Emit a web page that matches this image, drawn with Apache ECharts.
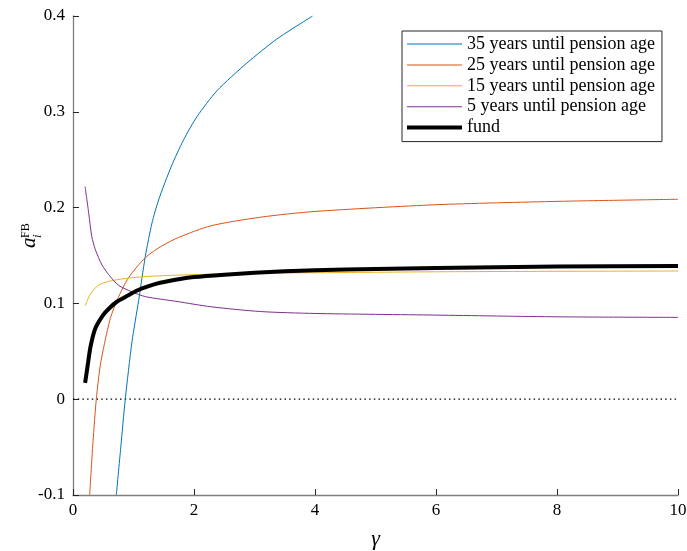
<!DOCTYPE html>
<html>
<head>
<meta charset="utf-8">
<script src="https://cdn.jsdelivr.net/npm/echarts@6/dist/echarts.min.js"></script>
<style>
html,body{margin:0;padding:0;background:#fff;}
#chart{width:687px;height:551px;}
</style>
</head>
<body>
<div id="chart"></div>
<script>
// ---- data ----
const seriesNames = ['35 years until pension age', '25 years until pension age', '15 years until pension age', '5 years until pension age', 'fund'];
const seriesColors = ['#0072BD', '#D95319', '#EDB120', '#7E2F8E', '#000000'];

const x35 = [0.716, 0.79, 0.864, 0.975, 1.085, 1.195, 1.306, 1.415, 1.625, 1.83, 2.05, 2.38, 2.876, 3.37, 3.96];
const y35 = [-0.1, -0.05, 0, 0.060, 0.103, 0.149, 0.184, 0.208, 0.243, 0.271, 0.295, 0.322, 0.351, 0.376, 0.400];

const x25 = [0.275, 0.33, 0.385, 0.45, 0.52, 0.62, 0.74, 0.92, 1.2, 1.47, 1.75, 2.28, 3.1, 4, 6, 8, 10];
const y25 = [-0.1, -0.045, 0, 0.035, 0.058, 0.085, 0.105, 0.127, 0.148, 0.160, 0.169, 0.181, 0.190, 0.196, 0.203, 0.2065, 0.2087];

const x15 = [0.2, 0.29, 0.42, 0.59, 0.86, 1.2, 1.5, 2, 2.5, 3, 4, 6, 8, 10];
const y15 = [0.0975, 0.110, 0.119, 0.123, 0.126, 0.128, 0.129, 0.130, 0.1308, 0.1315, 0.132, 0.133, 0.1335, 0.1338];

const x5 = [0.2, 0.26, 0.31, 0.37, 0.48, 0.59, 0.75, 0.975, 1.2, 1.72, 2.28, 3.1, 4, 6, 8, 10];
const y5 = [0.222, 0.194, 0.170, 0.156, 0.140, 0.130, 0.119, 0.112, 0.107, 0.102, 0.0965, 0.0915, 0.0895, 0.0878, 0.0860, 0.0854];

const xFund = [0.2, 0.24, 0.29, 0.37, 0.5, 0.6, 0.73, 0.9, 1.06, 1.25, 1.44, 1.77, 2, 2.5, 3, 3.5, 4, 5, 6, 8, 10];
const yFund = [0.017, 0.034, 0.055, 0.074, 0.088, 0.095, 0.102, 0.108, 0.1135, 0.118, 0.1215, 0.1255, 0.1275, 0.130, 0.132, 0.1335, 0.1345, 0.136, 0.137, 0.1385, 0.139];

const zeroX = [0, 10];
const zeroY = [0, 0];

const xTicks = [0, 2, 4, 6, 8, 10];
const yTicks = [-0.1, 0, 0.1, 0.2, 0.3, 0.4];

// ---- build ----
function pairs(xs, ys) { return xs.map((x, i) => [x, ys[i]]); }
const seriesX = [x35, x25, x15, x5, xFund];
const seriesY = [y35, y25, y15, y5, yFund];
const widths = [1, 1, 1, 1, 4];

const FONT = '"Liberation Serif", "DejaVu Serif", serif';

const series = [{
  type: 'line', name: 'zero', data: pairs(zeroX, zeroY), symbol: 'none', silent: true,
  lineStyle: { color: '#000', width: 1.2, type: [1.5, 3.2] }, z: 1
}];
seriesNames.forEach((n, i) => {
  series.push({
    type: 'line', name: n, data: pairs(seriesX[i], seriesY[i]),
    symbol: 'none', smooth: 0.25,
    lineStyle: { color: seriesColors[i], width: widths[i] },
    itemStyle: { color: seriesColors[i] },
    z: 2 + i, clip: true
  });
});

const legendData = seriesNames.map((n, i) => ({
  name: n,
  icon: widths[i] > 2 ? 'path://M0,0H55V4H0Z' : 'path://M0,0H55V1H0Z',
  itemStyle: { color: seriesColors[i] }
}));

const chart = echarts.init(document.getElementById('chart'), null, { renderer: 'canvas' });
chart.setOption({
  animation: false,
  backgroundColor: '#fff',
  grid: { left: 73, right: 9, top: 16, bottom: 56, containLabel: false, outerBoundsMode: 'none' },
  xAxis: {
    type: 'value', min: 0, max: 10, interval: 2,
    name: 'γ', nameLocation: 'middle', nameGap: 33,
    nameTextStyle: { fontFamily: FONT, fontSize: 22, fontStyle: 'italic', color: '#000' },
    axisLine: { show: true, onZero: false, lineStyle: { color: '#7f7f7f', width: 1.3 } },
    axisTick: { show: true, inside: true, length: 6, lineStyle: { color: '#262626' } },
    axisLabel: { fontFamily: FONT, fontSize: 17, color: '#000', margin: 7,
      formatter: v => String(Math.round(v * 10) / 10) },
    splitLine: { show: false }
  },
  yAxis: {
    type: 'value', min: -0.1, max: 0.4, interval: 0.1,
    axisLine: { show: true, onZero: false, lineStyle: { color: '#7f7f7f', width: 1.3 } },
    axisTick: { show: true, inside: true, length: 6, lineStyle: { color: '#262626' } },
    axisLabel: { fontFamily: FONT, fontSize: 17, color: '#000', margin: 8,
      formatter: v => String(Math.round(v * 10) / 10) },
    splitLine: { show: false }
  },
  legend: {
    data: legendData,
    orient: 'vertical',
    left: 402, top: 31,
    padding: [4, 7, 5, 5],
    itemWidth: 55, itemHeight: 14, itemGap: 2.9,
    backgroundColor: '#fff',
    borderColor: '#262626', borderWidth: 1,
    textStyle: { fontFamily: FONT, fontSize: 18, color: '#000' }
  },
  graphic: [{
    type: 'group', x: 40, y: 248, rotation: Math.PI / 2,
    children: [
      { type: 'text', x: 0, y: 0, style: { text: 'a', font: 'italic 21px ' + FONT, fill: '#000', textVerticalAlign: 'bottom' } },
      { type: 'text', x: 10, y: 4, style: { text: 'i', font: 'italic 13px ' + FONT, fill: '#000', textVerticalAlign: 'bottom' } },
      { type: 'text', x: 10, y: -8, style: { text: 'FB', font: '12px ' + FONT, fill: '#000', textVerticalAlign: 'bottom' } }
    ]
  }],
  series: series
});
</script>
</body>
</html>
